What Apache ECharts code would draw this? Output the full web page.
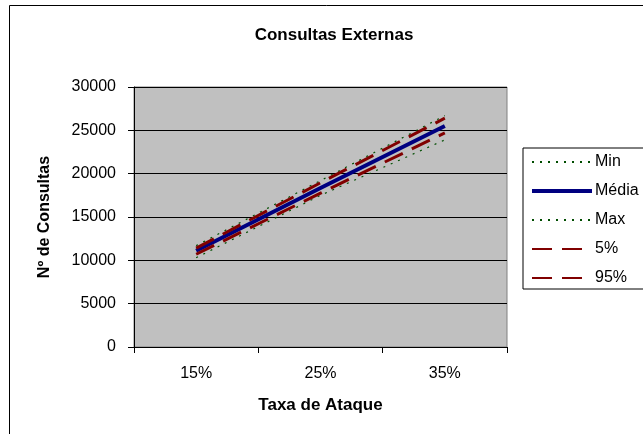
<!DOCTYPE html>
<html>
<head>
<meta charset="utf-8">
<script src="https://cdn.jsdelivr.net/npm/echarts@6/dist/echarts.min.js"></script>
<style>
  html, body { margin: 0; padding: 0; background: #fff; }
  #chart { width: 643px; height: 434px; }
</style>
</head>
<body>
<div id="chart"></div>
<script>
// Attack rate categories
const categories = ['15%', '25%', '35%'];

// Number of external consultations per scenario
const minValues   = [10300, 17500, 23900];
const meanValues  = [11100, 18350, 25500];
const maxValues   = [11700, 19200, 26700];
const p5Values    = [10700, 17750, 24700];
const p95Values   = [11400, 18950, 26400];

const FONT = '"Liberation Sans", Arial, sans-serif';

const chart = echarts.init(document.getElementById('chart'), null, { renderer: 'canvas' });

function lineSeries(name, data, color, width, type) {
  return {
    name: name,
    type: 'line',
    data: data,
    symbol: 'none',
    showSymbol: false,
    animation: false,
    lineStyle: { color: color, width: width, type: type },
    itemStyle: { color: color }
  };
}

chart.setOption({
  animation: false,
  backgroundColor: '#ffffff',
  title: {
    text: 'Consultas Externas',
    left: 329,
    textAlign: 'center',
    top: 22,
    textStyle: { fontFamily: FONT, fontSize: 17, fontWeight: 'bold', color: '#000' }
  },
  graphic: [
    {
      type: 'rect',
      shape: { x: 9.5, y: 5.5, width: 700, height: 450 },
      style: { fill: 'none', stroke: '#000', lineWidth: 1 },
      silent: true
    }
  ],
  legend: {
    orient: 'vertical',
    left: 523,
    top: 148,
    padding: [6, 12, 3, 7],
    itemGap: 13,
    itemWidth: 60,
    itemHeight: 16,
    borderColor: '#000',
    borderWidth: 1,
    backgroundColor: '#fff',
    itemStyle: { opacity: 0 },
    textStyle: { fontFamily: FONT, fontSize: 16, color: '#000', padding: [0, 0, 0, -2] },
    data: [
      'Min',
      { name: 'Média', lineStyle: { width: 4 } },
      'Max',
      '5%',
      '95%'
    ]
  },
  grid: {
    left: 134,
    right: 136,
    top: 87,
    bottom: 87,
    show: true,
    backgroundColor: '#c0c0c0',
    borderColor: '#808080',
    borderWidth: 1
  },
  xAxis: {
    type: 'category',
    data: categories,
    boundaryGap: true,
    name: 'Taxa de Ataque',
    nameLocation: 'middle',
    nameGap: 50,
    nameTextStyle: { fontFamily: FONT, fontSize: 17, fontWeight: 'bold', color: '#000' },
    axisLine: { lineStyle: { color: '#000', width: 1 } },
    axisTick: { show: true, inside: false, length: 6, lineStyle: { color: '#000' } },
    axisLabel: { fontFamily: FONT, fontSize: 16, color: '#000', margin: 19 },
    splitLine: { show: false }
  },
  yAxis: {
    type: 'value',
    min: 0,
    max: 30000,
    interval: 5000,
    name: 'Nº de Consultas',
    nameLocation: 'middle',
    nameGap: 81,
    nameRotate: 90,
    nameTextStyle: { fontFamily: FONT, fontSize: 16, fontWeight: 'bold', color: '#000' },
    axisLine: { show: true, lineStyle: { color: '#000', width: 1 } },
    axisTick: { show: true, inside: false, length: 6, lineStyle: { color: '#000' } },
    axisLabel: {
      fontFamily: FONT, fontSize: 16, color: '#000', margin: 18,
      formatter: function (v) { return String(v); }
    },
    splitLine: { show: true, lineStyle: { color: '#000', width: 1 } }
  },
  series: [
    lineSeries('Min', minValues, '#004d00', 1.2, [2, 6]),
    lineSeries('Média', meanValues, '#000080', 4, 'solid'),
    lineSeries('Max', maxValues, '#004d00', 1.2, [2, 6]),
    lineSeries('5%', p5Values, '#800000', 3, [20, 10]),
    lineSeries('95%', p95Values, '#800000', 3, [20, 10])
  ]
});
</script>
</body>
</html>
